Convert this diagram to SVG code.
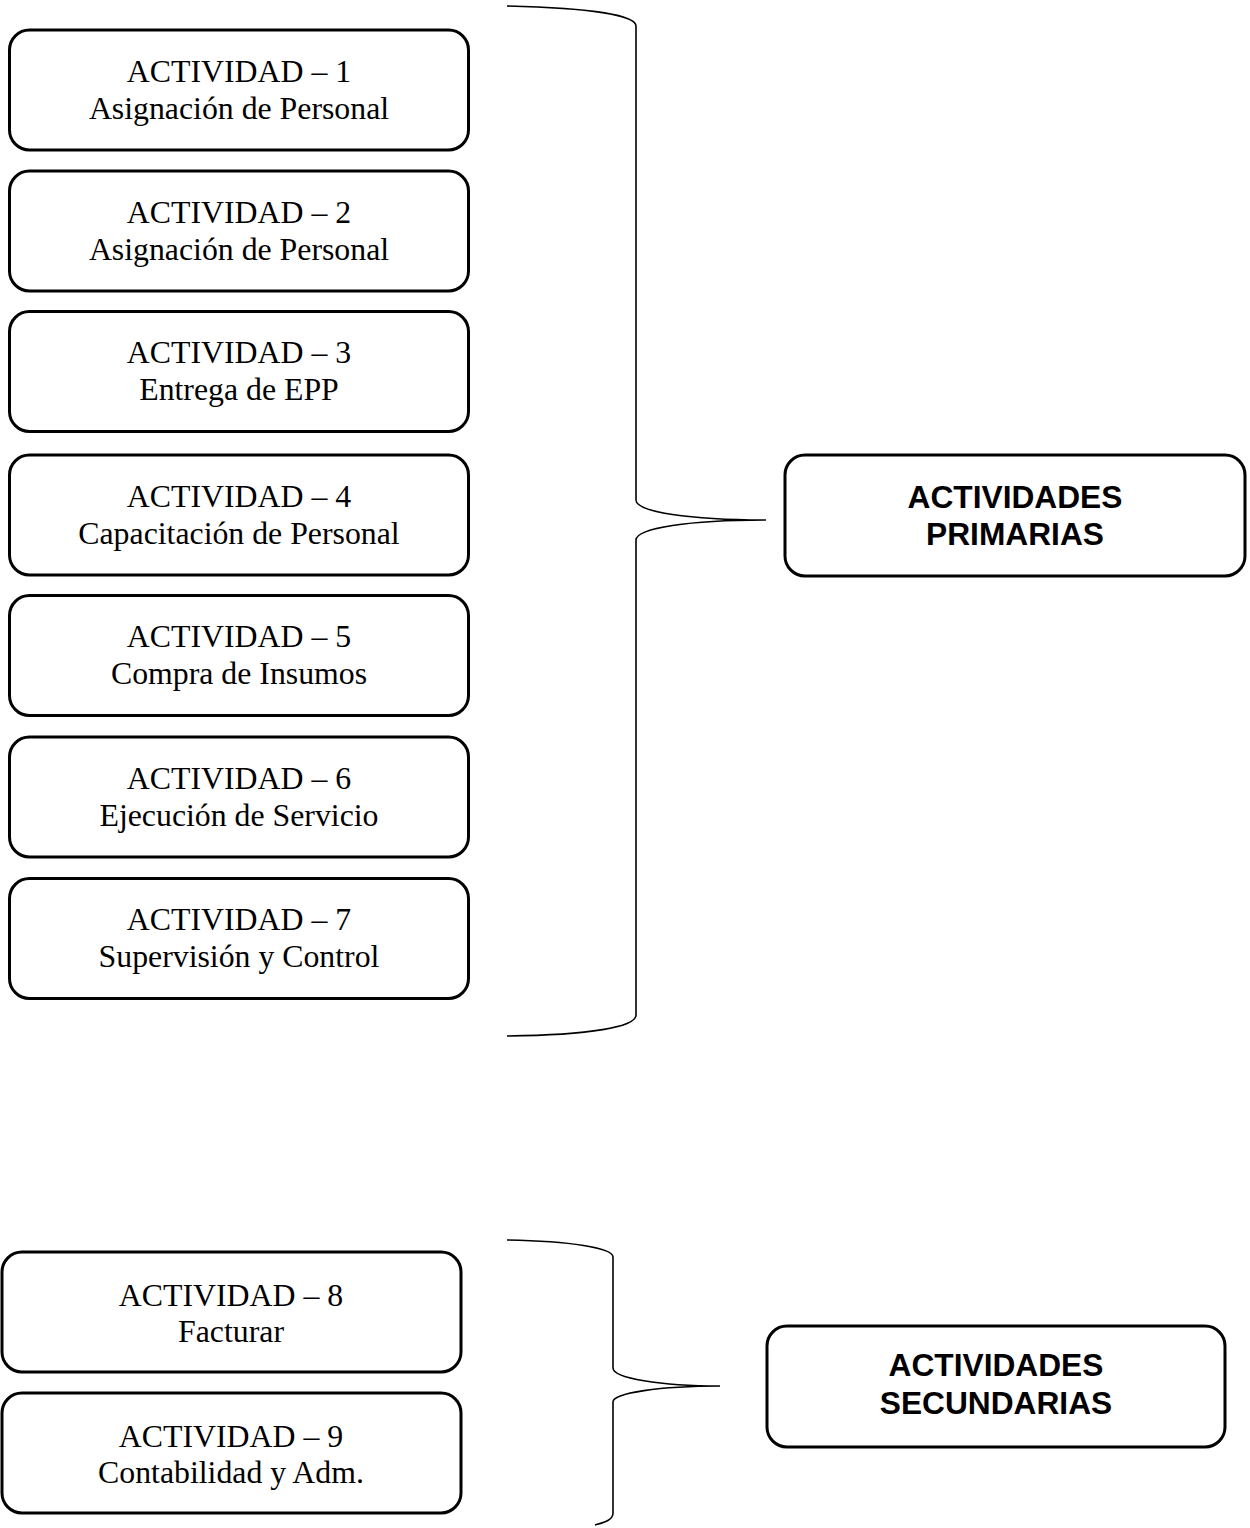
<svg xmlns="http://www.w3.org/2000/svg" width="1250" height="1528" viewBox="0 0 1250 1528">
<style>
.box{fill:#fff;stroke:#000;stroke-width:3}
.t{font-family:"Liberation Serif","Times New Roman",serif;font-size:31.8px;text-anchor:middle;fill:#000}
.b{font-family:"Liberation Sans",Arial,sans-serif;font-size:31.7px;font-weight:bold;text-anchor:middle;fill:#000}
.br{fill:none;stroke:#000;stroke-width:1.6}
</style>
<rect width="1250" height="1528" fill="#fff"/>
<g id="connectors">
<path class="br" d="M507,6 C590,8 636,15 636,26 L636,500 C636,512 690,520 766,520 C690,520 636,528 636,540 L636,1015 C636,1027 590,1035 507,1036"/>
<path class="br" d="M507,1240 C570,1241 613,1248 613,1257 L613,1368 C613,1378 660,1386 720,1386 C660,1386 613,1393 613,1402 L613,1513 C613,1520 605,1522 595,1525"/>
</g>
<g id="a1"><rect class="box" x="9.5" y="30" width="459" height="120" rx="20"/><text class="t" x="239" y="82">ACTIVIDAD – 1</text><text class="t" x="239" y="119">Asignación de Personal</text></g>
<g id="a2"><rect class="box" x="9.5" y="171" width="459" height="120" rx="20"/><text class="t" x="239" y="223">ACTIVIDAD – 2</text><text class="t" x="239" y="260">Asignación de Personal</text></g>
<g id="a3"><rect class="box" x="9.5" y="311.5" width="459" height="120" rx="20"/><text class="t" x="239" y="363">ACTIVIDAD – 3</text><text class="t" x="239" y="400">Entrega de EPP</text></g>
<g id="a4"><rect class="box" x="9.5" y="455" width="459" height="120" rx="20"/><text class="t" x="239" y="507">ACTIVIDAD – 4</text><text class="t" x="239" y="544">Capacitación de Personal</text></g>
<g id="a5"><rect class="box" x="9.5" y="595.5" width="459" height="120" rx="20"/><text class="t" x="239" y="647">ACTIVIDAD – 5</text><text class="t" x="239" y="684">Compra de Insumos</text></g>
<g id="a6"><rect class="box" x="9.5" y="737" width="459" height="120" rx="20"/><text class="t" x="239" y="789">ACTIVIDAD – 6</text><text class="t" x="239" y="826">Ejecución de Servicio</text></g>
<g id="a7"><rect class="box" x="9.5" y="878.5" width="459" height="120" rx="20"/><text class="t" x="239" y="930">ACTIVIDAD – 7</text><text class="t" x="239" y="967">Supervisión y Control</text></g>
<g id="primarias"><rect class="box" x="785" y="455" width="460" height="121" rx="20"/><text class="b" x="1015" y="508">ACTIVIDADES</text><text class="b" x="1015" y="545">PRIMARIAS</text></g>
<g id="a8"><rect class="box" x="2" y="1252" width="459" height="120" rx="20"/><text class="t" x="231" y="1306">ACTIVIDAD – 8</text><text class="t" x="231" y="1342">Facturar</text></g>
<g id="a9"><rect class="box" x="2" y="1393" width="459" height="120" rx="20"/><text class="t" x="231" y="1447">ACTIVIDAD – 9</text><text class="t" x="231" y="1483">Contabilidad y Adm.</text></g>
<g id="secundarias"><rect class="box" x="767" y="1326" width="458" height="121" rx="20"/><text class="b" x="996" y="1376">ACTIVIDADES</text><text class="b" x="996" y="1414">SECUNDARIAS</text></g>
</svg>
